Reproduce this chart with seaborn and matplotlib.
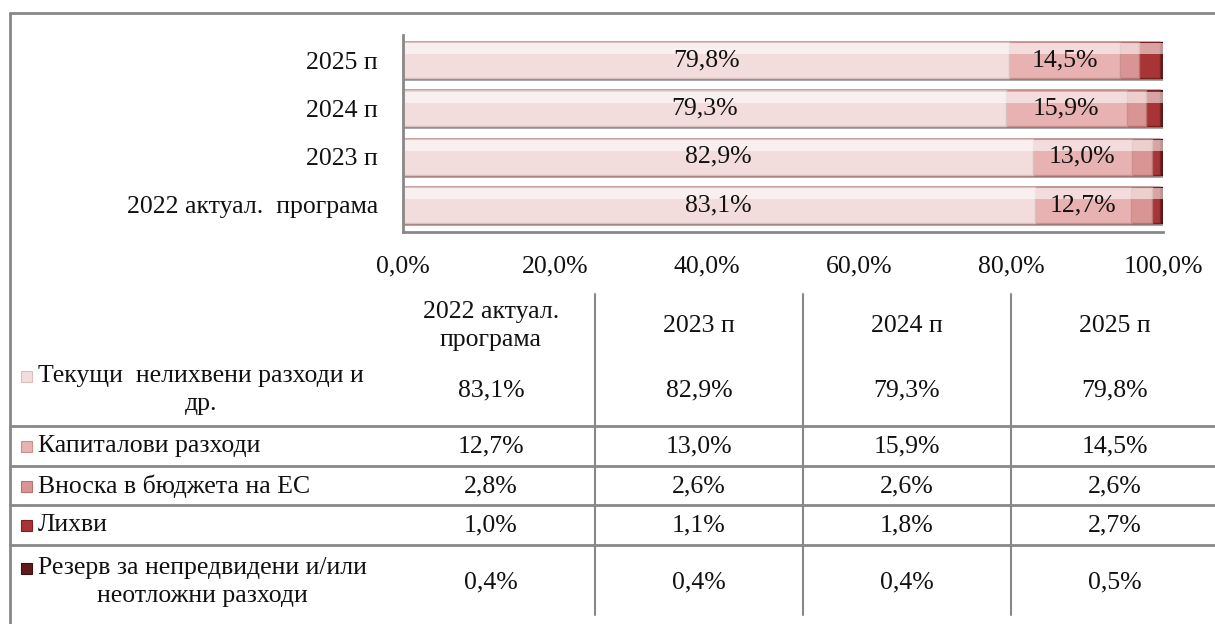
import numpy as np
import pandas as pd
import matplotlib.pyplot as plt
import seaborn as sns
from matplotlib.patches import Rectangle
from matplotlib.lines import Line2D

# data
years = ['2022 актуал.  програма', '2023 п', '2024 п', '2025 п']
table_heads = ['2022 актуал.\nпрограма', '2023 п', '2024 п', '2025 п']
series = ['Текущи  нелихвени разходи и\nдр.', 'Капиталови разходи',
          'Вноска в бюджета на ЕС', 'Лихви',
          'Резерв за непредвидени и/или\nнеотложни разходи']
current = [83.1, 82.9, 79.3, 79.8]
capital = [12.7, 13.0, 15.9, 14.5]
eu_contrib = [2.8, 2.6, 2.6, 2.6]
interest = [1.0, 1.1, 1.8, 2.7]
reserve = [0.4, 0.4, 0.4, 0.5]
xticks = [0, 20, 40, 60, 80, 100]

colors = ['#f2dcdc', '#e8b2b2', '#d99594', '#a83535', '#5e1c1c']
edges = ['#d9c0c0', '#c99090', '#b87272', '#7a2020', '#3e0f0f']

W, H = 1215, 624
def fx(px): return px / W
def fy(py): return 1 - py / H
def fmt(v): return f'{v:.1f}%'.replace('.', ',')

sns.set_style('white')
plt.rcParams['font.family'] = ['Liberation Serif', 'DejaVu Serif']
fs = 18.5

fig = plt.figure(figsize=(W / 100, H / 100), dpi=100)
ax = fig.add_axes([fx(403), fy(232), fx(1163) - fx(403), fy(35) - fy(232)])

order = years[::-1]
vals = np.array([current, capital, eu_contrib, interest, reserve])
cum = np.cumsum(vals, axis=0)

# stacked bars: draw cumulative totals from the back
for i in range(4, -1, -1):
    sns.barplot(x=cum[i], y=years, order=order, orient='h', color=colors[i],
                edgecolor=edges[i], linewidth=1, width=0.75, saturation=1, ax=ax)

# glossy highlight + shadow
for p in ax.containers[0]:
    ax.add_patch(Rectangle((0, p.get_y() + p.get_height() * 0.04), p.get_width(),
                           p.get_height() * 0.3, facecolor='white', alpha=0.55,
                           lw=0, zorder=1.5))
    ax.add_patch(Rectangle((0, p.get_y() + p.get_height()), p.get_width(),
                           p.get_height() * 0.08, facecolor='#a8a8a8',
                           lw=0, zorder=0.9))

for j, yr in enumerate(years):
    pos = order.index(yr)
    ax.text(current[j] / 2, pos, fmt(current[j]), ha='center', va='center',
            fontsize=fs, color='#111', zorder=4)
    ax.text(current[j] + capital[j] / 2, pos, fmt(capital[j]), ha='center',
            va='center', fontsize=fs, color='#111', zorder=4)

ax.set_xlim(0, 100)
ax.set_ylim(3.56, -0.52)
ax.set_xticks(xticks)
ax.set_xticklabels([fmt(t) for t in xticks])
ax.set_xlabel('')
ax.set_ylabel('')
sns.despine(ax=ax)
for s in ['left', 'bottom']:
    ax.spines[s].set_color('#888888')
    ax.spines[s].set_linewidth(2)
ax.tick_params(axis='x', direction='out', length=6, width=1.5, color='#888888',
               pad=11, labelsize=fs, labelcolor='#111')
ax.tick_params(axis='y', length=0, pad=18, labelsize=fs, labelcolor='#111')

# outer frame
fig.add_artist(Line2D([fx(10), fx(10)], [fy(13), fy(624)], color='#888888', lw=2))
fig.add_artist(Line2D([fx(10), fx(1215)], [fy(13), fy(13)], color='#888888', lw=2))

# data table
col_centers = [491, 699, 907, 1115]
for k in range(4):
    fig.text(fx(col_centers[k]), fy(326), table_heads[k], ha='center', va='center',
             fontsize=fs, color='#111', linespacing=1.3)

row_y = [390, 446, 486, 525, 582]
for y in [426, 466, 505, 545]:
    fig.add_artist(Line2D([fx(10), fx(1215)], [fy(y), fy(y)], color='#888888', lw=2))
for x in [595, 803, 1011]:
    fig.add_artist(Line2D([fx(x), fx(x)], [fy(294), fy(615)], color='#888888', lw=1.5))

for r in range(5):
    lab = series[r]
    fig.text(fx(38), fy(row_y[r]), lab, ha='left', va='center', multialignment='center',
             fontsize=fs, color='#111', linespacing=1.3)
    my = row_y[r] - (14 if '\n' in lab else 0)
    fig.add_artist(Rectangle((fx(21), fy(my + 5.5)), 11 / W, 11 / H, transform=fig.transFigure,
                             facecolor=colors[r], edgecolor=edges[r], lw=0.8))
    for k in range(4):
        fig.text(fx(col_centers[k]), fy(row_y[r]), fmt(vals[r][k]), ha='center',
                 va='center', fontsize=fs, color='#111')

fig.savefig('out.png', dpi=100)
